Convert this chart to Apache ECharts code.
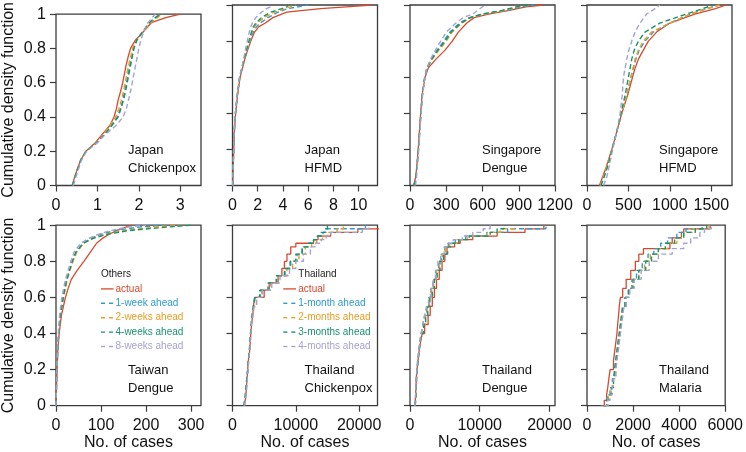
<!DOCTYPE html>
<html><head><meta charset="utf-8">
<script src="https://cdn.jsdelivr.net/npm/echarts@6/dist/echarts.min.js"></script>
<style>html,body{margin:0;padding:0;background:#fff}#c{width:746px;height:452px}</style>
</head><body><div id="c"></div>
<script>
// ---------- panel labels ----------
const panelCountry = ['Japan','Japan','Singapore','Singapore','Taiwan','Thailand','Thailand','Thailand'];
const panelDisease = ['Chickenpox','HFMD','Dengue','HFMD','Dengue','Chickenpox','Dengue','Malaria'];
// ---------- axes ----------
const xMax = [3.5, 11.5, 1200, 1750, 322, 22900, 20800, 6000];
const xTicks1 = [0,1,2,3];
const xTicks2 = [0,2,4,6,8,10];
const xTicks3 = [0,300,600,900,1200];
const xTicks4 = [0,500,1000,1500];
const xTicks5 = [0,100,200,300];
const xTicks6 = [0,10000,20000];
const xTicks7 = [0,10000,20000];
const xTicks8 = [0,2000,4000,6000];
const yTicks = [0,0.2,0.4,0.6,0.8,1];
const yTitle = 'Cumulative density function';
const xTitle = 'No. of cases';
// ---------- legends ----------
const legendOthersTitle = 'Others';
const legendOthers = ['actual','1-week ahead','2-weeks ahead','4-weeks ahead','8-weeks ahead'];
const legendThaiTitle = 'Thailand';
const legendThai = ['actual','1-month ahead','2-months ahead','3-months ahead','4-months ahead'];

// ---------- data (cumulative probability levels and the case values at which each series reaches them) ----------
// Japan Chickenpox
const p1 = [0,0.05,0.1,0.15,0.2,0.25,0.3,0.35,0.4,0.45,0.5,0.55,0.6,0.65,0.7,0.75,0.8,0.85,0.9,0.95,0.98,1];
const jc_actual = [0.39,0.45,0.52,0.6,0.72,0.95,1.12,1.3,1.4,1.46,1.5,1.56,1.61,1.65,1.69,1.74,1.8,1.92,2.12,2.3,2.65,3.0];
const jc_h1 = [0.4,0.46,0.53,0.6,0.72,0.98,1.18,1.33,1.48,1.56,1.61,1.66,1.7,1.74,1.78,1.83,1.88,1.96,2.1,2.25,2.4,2.5];
const jc_h2 = [0.4,0.46,0.53,0.6,0.72,0.97,1.15,1.3,1.44,1.52,1.58,1.63,1.67,1.71,1.75,1.8,1.85,1.95,2.12,2.28,2.45,2.55];
const jc_h3 = [0.4,0.46,0.53,0.6,0.73,0.98,1.18,1.35,1.5,1.57,1.63,1.68,1.72,1.76,1.8,1.84,1.88,1.95,2.1,2.25,2.4,2.52];
const jc_h4 = [0.42,0.48,0.55,0.62,0.74,1.0,1.2,1.45,1.62,1.7,1.75,1.8,1.84,1.88,1.92,1.96,2.0,2.05,2.12,2.22,2.32,2.4];
// Japan HFMD
const p2 = [0,0.1,0.2,0.3,0.4,0.5,0.6,0.7,0.75,0.8,0.85,0.88,0.9,0.93,0.96,0.98,0.99,1];
const jh_actual = [0.02,0.06,0.1,0.15,0.25,0.4,0.6,0.98,1.2,1.45,1.75,2.1,2.6,3.2,4.3,7.0,9.0,11.0];
const jh_h1 = [0.02,0.05,0.09,0.14,0.23,0.38,0.58,0.95,1.15,1.4,1.65,1.9,2.2,2.8,3.6,4.4,5.2,6.0];
const jh_h2 = [0.02,0.05,0.09,0.14,0.23,0.38,0.58,0.94,1.12,1.35,1.55,1.75,1.95,2.5,3.3,4.2,4.6,5.0];
const jh_h3 = [0.02,0.05,0.09,0.14,0.23,0.38,0.57,0.92,1.1,1.3,1.5,1.65,1.85,2.3,3.0,3.9,4.3,4.5];
const jh_h4 = [0.02,0.05,0.09,0.14,0.23,0.37,0.55,0.88,1.02,1.17,1.33,1.45,1.58,1.85,2.3,2.7,3.0,3.2];
// Singapore Dengue
const p3 = [0,0.05,0.1,0.2,0.3,0.4,0.5,0.6,0.65,0.7,0.75,0.8,0.85,0.9,0.93,0.95,0.97,0.99,1];
const sd_actual = [30,48,55,68,78,88,100,125,150,215,290,350,400,470,530,650,820,960,1100];
const sd_h1 = [35,50,57,70,80,90,102,122,140,175,225,280,330,410,490,600,800,930,1030];
const sd_h2 = [35,50,57,70,80,90,102,122,140,185,240,300,350,430,500,620,780,900,1000];
const sd_h3 = [35,50,57,70,80,90,102,122,140,180,230,290,340,420,500,600,760,880,980];
const sd_h4 = [45,55,60,72,82,92,104,124,140,170,210,255,300,380,440,520,560,600,620];
// Singapore HFMD
const p4 = [0,0.05,0.1,0.2,0.3,0.4,0.5,0.6,0.65,0.7,0.75,0.8,0.85,0.9,0.95,0.98,1];
const sh_actual = [150,190,230,300,360,420,490,550,580,620,680,740,840,1000,1300,1550,1680];
const sh_h1 = [160,200,240,300,360,420,480,530,560,590,630,700,800,1000,1250,1450,1600];
const sh_h2 = [160,200,235,300,360,420,480,530,555,580,620,680,780,1000,1250,1450,1600];
const sh_h3 = [170,210,245,305,360,410,460,500,520,540,570,620,700,880,1200,1400,1520];
const sh_h4 = [200,240,265,310,360,400,425,440,460,480,505,540,580,640,720,820,880];
// Taiwan Dengue
const p5 = [0,0.1,0.2,0.3,0.4,0.5,0.6,0.65,0.7,0.75,0.8,0.85,0.9,0.93,0.95,0.97,0.99,1];
const td_actual = [0,1,2.5,4,7,12,21,27,34,47,62,76,90,105,118,135,155,168];
const td_h1 = [0,1,2,3.5,6,9,15,19,24,30,37,45,60,80,100,130,185,240];
const td_h2 = [0,1,2,3.5,6,10,17,21,25,31,38,46,62,85,110,150,220,280];
const td_h3 = [0,1,2,3.5,6,10,16,20,24,30,36,44,60,85,115,160,250,300];
const td_h4 = [0,1,2,3,5,8,13,17,21,27,33,40,55,75,95,120,160,200];
// Thailand Chickenpox
const p6 = [0,0.05,0.1,0.15,0.2,0.25,0.3,0.35,0.4,0.45,0.5,0.55,0.6,0.64,0.68,0.72,0.76,0.8,0.84,0.88,0.9,0.92,0.94,0.96,0.98,1];
const tc_actual = [1900,2100,2200,2300,2400,2500,2700,2800,2900,3000,3200,3300,3500,5000,5800,7200,7800,8200,8600,9200,10000,12800,13500,15500,19800,23500];
const tc_h1 = [1800,2000,2150,2250,2400,2500,2650,2750,2850,2950,3100,3300,3600,4400,5800,7000,8300,9200,10200,11000,12000,12800,13500,14300,14800,21000];
const tc_h2 = [1850,2050,2200,2300,2450,2550,2700,2800,2900,3000,3200,3400,3800,4600,6000,7200,8600,9500,10500,11500,12500,13300,14200,15000,16500,17500];
const tc_h3 = [1800,2000,2150,2250,2400,2500,2650,2750,2850,2950,3100,3300,3500,4300,5600,6900,8200,9100,10000,11000,12000,12800,13400,14000,14600,15000];
const tc_h4 = [1900,2100,2250,2350,2450,2550,2700,2800,2900,3000,3200,3400,3800,4700,6200,7500,9000,10000,11200,12300,13200,14000,14800,15500,20500,21500];
// Thailand Dengue
const p7 = [0,0.05,0.1,0.15,0.2,0.25,0.3,0.35,0.4,0.45,0.5,0.55,0.6,0.65,0.7,0.75,0.8,0.84,0.88,0.9,0.92,0.94,0.96,0.98,1];
const tdg_actual = [700,800,850,900,1000,1150,1300,1500,1750,2100,2600,2900,3200,3500,3800,4200,4600,5000,5300,6400,7200,9000,12500,16500,19200];
const tdg_h1 = [700,800,850,900,1000,1100,1250,1400,1600,1850,2100,2400,2700,3000,3300,3700,4100,4500,5000,5500,6500,8000,11000,14000,19500];
const tdg_h2 = [750,850,900,950,1050,1150,1300,1450,1650,1900,2200,2500,2800,3100,3400,3800,4200,4600,5100,5700,6800,8200,11000,13000,15000];
const tdg_h3 = [750,850,900,950,1050,1150,1300,1450,1650,1950,2250,2550,2850,3200,3500,3900,4300,4800,5400,6000,7000,8500,11500,12500,13500];
const tdg_h4 = [700,800,850,900,1000,1100,1250,1400,1600,1850,2100,2350,2650,2950,3300,3650,4000,4400,4900,5400,6200,7500,9000,10500,11500];
// Thailand Malaria
const p8 = [0,0.03,0.06,0.1,0.15,0.2,0.25,0.3,0.35,0.4,0.45,0.5,0.55,0.6,0.65,0.7,0.75,0.8,0.84,0.87,0.9,0.93,0.96,0.98,1];
const tm_actual = [600,750,850,900,950,1000,1150,1200,1250,1300,1330,1370,1400,1450,1550,1700,1900,2100,2250,2450,3600,3700,4100,4200,5350];
const tm_h1 = [700,850,900,1000,1100,1200,1250,1300,1350,1400,1450,1500,1550,1650,1800,1950,2150,2400,2650,2900,3200,3500,3900,4300,5000];
const tm_h2 = [750,900,950,1050,1150,1250,1300,1350,1400,1450,1500,1550,1600,1700,1850,2000,2250,2500,2750,3100,3500,3900,4200,4600,5300];
const tm_h3 = [700,850,950,1050,1150,1200,1250,1300,1350,1400,1450,1500,1550,1650,1800,2000,2250,2550,2800,3100,3400,3800,4200,4700,5200];
const tm_h4 = [750,900,1000,1100,1150,1250,1300,1350,1400,1450,1500,1550,1600,1700,1850,2050,2350,2700,3100,3700,4200,4500,4900,5100,5400];

// ---------- styling ----------
const colors = ['#d9482b', '#2f9bd0', '#eb9d24', '#17936a', '#a3a3d3'];
const FONT = '"Liberation Sans", Arial, sans-serif';

const panels = [
  {levels: p1, xs: [jc_actual, jc_h1, jc_h2, jc_h3, jc_h4], ticks: xTicks1, step: false},
  {levels: p2, xs: [jh_actual, jh_h1, jh_h2, jh_h3, jh_h4], ticks: xTicks2, step: false},
  {levels: p3, xs: [sd_actual, sd_h1, sd_h2, sd_h3, sd_h4], ticks: xTicks3, step: false},
  {levels: p4, xs: [sh_actual, sh_h1, sh_h2, sh_h3, sh_h4], ticks: xTicks4, step: false},
  {levels: p5, xs: [td_actual, td_h1, td_h2, td_h3, td_h4], ticks: xTicks5, step: false},
  {levels: p6, xs: [tc_actual, tc_h1, tc_h2, tc_h3, tc_h4], ticks: xTicks6, step: true},
  {levels: p7, xs: [tdg_actual, tdg_h1, tdg_h2, tdg_h3, tdg_h4], ticks: xTicks7, step: true},
  {levels: p8, xs: [tm_actual, tm_h1, tm_h2, tm_h3, tm_h4], ticks: xTicks8, step: true}
];

const colLeft = [56, 232.5, 410, 587];
const rowTop = [5, 225.2];
const W = 145, H = 180.5;

const grids = [], xAxes = [], yAxes = [], series = [], graphics = [];

panels.forEach((pn, i) => {
  const r = Math.floor(i / 4), c = i % 4;
  grids.push({left: colLeft[c], top: rowTop[r], width: W, height: H, show: true,
    borderColor: '#3c3c3c', borderWidth: 1.3, backgroundColor: 'transparent', containLabel: false});
  xAxes.push({type: 'value', gridIndex: i, min: 0, max: xMax[i],
    axisLine: {show: false}, splitLine: {show: false},
    axisTick: {show: true, length: 6, lineStyle: {color: '#3c3c3c', width: 1.2}, customValues: pn.ticks},
    axisLabel: {show: true, margin: 12, fontSize: 16, color: '#111', fontFamily: FONT,
      customValues: pn.ticks, formatter: v => String(v)},
    name: r === 1 ? xTitle : '', nameLocation: 'middle', nameGap: 29,
    nameTextStyle: {fontSize: 16, color: '#111', fontFamily: FONT}});
  yAxes.push({type: 'value', gridIndex: i, min: 0, max: 1,
    axisLine: {show: false}, splitLine: {show: false},
    axisTick: {show: true, length: 6, lineStyle: {color: '#3c3c3c', width: 1.2}, customValues: yTicks},
    axisLabel: {show: c === 0, margin: 10, fontSize: 16, color: '#111', fontFamily: FONT,
      customValues: yTicks, formatter: v => String(v)},
    name: c === 0 ? yTitle : '', nameLocation: 'middle', nameGap: 39, nameRotate: 90,
    nameTextStyle: {fontSize: 16, color: '#111', fontFamily: FONT}});
  pn.xs.forEach((xs, k) => {
    series.push({type: 'line', xAxisIndex: i, yAxisIndex: i,
      data: pn.levels.map((p, j) => [xs[j], p]),
      step: pn.step ? 'end' : false, symbol: 'none', showSymbol: false, silent: true,
      clip: true, z: 2 + k,
      lineStyle: {color: colors[k], width: k === 0 ? 1.3 : 1.4, type: k === 0 ? 'solid' : [5, 3]}});
  });
  const right = colLeft[c] + W, bottom = rowTop[r] + H;
  graphics.push({type: 'text', x: right - 73, y: bottom - 35, silent: true,
    style: {text: panelCountry[i], font: '13px ' + FONT, fill: '#111', align: 'left', verticalAlign: 'middle'}});
  graphics.push({type: 'text', x: right - 73, y: bottom - 17.5, silent: true,
    style: {text: panelDisease[i], font: '13px ' + FONT, fill: '#111', align: 'left', verticalAlign: 'middle'}});
});

function addLegend(title, labels, titleX, lineX1, lineX2, textX) {
  const y0 = 274.5, dy = 14.4;
  graphics.push({type: 'text', x: titleX, y: y0, silent: true,
    style: {text: title, font: '10px ' + FONT, fill: '#222', align: 'left', verticalAlign: 'middle'}});
  labels.forEach((lab, k) => {
    const y = y0 + dy * (k + 1);
    graphics.push({type: 'line', silent: true, shape: {x1: lineX1, y1: y, x2: lineX2, y2: y},
      style: {stroke: colors[k], lineWidth: k === 0 ? 1.3 : 1.4, lineDash: k === 0 ? null : [4, 4]}});
    graphics.push({type: 'text', x: textX, y: y, silent: true,
      style: {text: lab, font: '10px ' + FONT, fill: colors[k], align: 'left', verticalAlign: 'middle'}});
  });
}
addLegend(legendOthersTitle, legendOthers, 101, 101, 113.5, 115.5);
addLegend(legendThaiTitle, legendThai, 298.3, 283.3, 296, 298.3);

const chart = echarts.init(document.getElementById('c'), null, {renderer: 'canvas'});
chart.setOption({
  animation: false,
  backgroundColor: '#fff',
  grid: grids, xAxis: xAxes, yAxis: yAxes, series: series, graphic: graphics
});
</script>
</body></html>
